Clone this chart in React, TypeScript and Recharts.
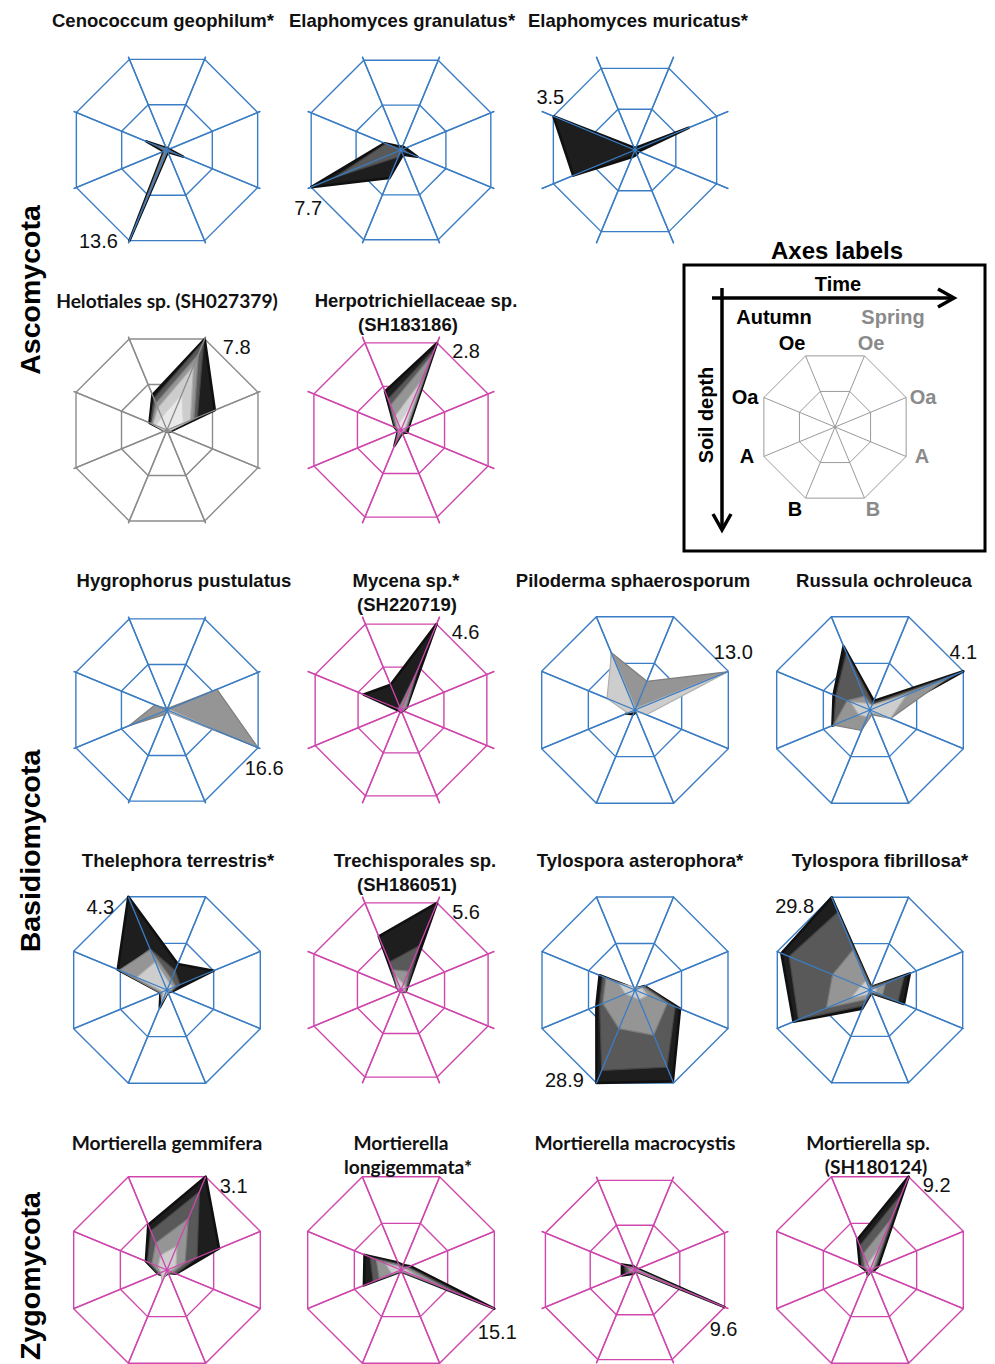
import React from "react";
import { RadarChart, Radar, PolarGrid, PolarAngleAxis, PolarRadiusAxis } from "recharts";

// axis order, clockwise from upper-right vertex
const axes = ["Oe spring", "Oa spring", "A spring", "B spring", "B autumn", "A autumn", "Oa autumn", "Oe autumn"];
const seriesKeys = ["s1", "s2", "s3", "s4", "s5"];
const seriesFill = ["#1e1e1e", "#595959", "#959595", "#cdcdcd", "#e8e8e8"];
const seriesStroke = ["#101010", "#454545", "#7e7e7e", "#b0b0b0", "#d2d2d2"];

const BLUE = "#3b7dc4";
const MAGENTA = "#cf46ad";
const GREY = "#8c8c8c";

// values per series (black -> lightest), in axis order
const cenococcumGeophilum = [
  [0.3, 0.3, 2.4, 0.3, 13.6, 0.5, 3.1, 0.3],
  [0.2, 0.2, 1.6, 0.2, 12.2, 0.4, 2.2, 0.2],
  [0.1, 0.1, 0.8, 0.1, 8.5, 0.3, 1.2, 0.1],
];
const elaphomycesGranulatus = [
  [0.3, 0.4, 1.4, 0.4, 2.4, 7.7, 1.4, 0.3],
  [0.1, 0.2, 0.6, 0.1, 0.6, 5.6, 1.3, 0.1],
];
const elaphomycesMuricatus = [
  [0.1, 2.3, 0.15, 0.2, 0.3, 2.65, 3.5, 0.1],
];
const helotiales = [
  [7.8, 4.1, 0.3, 0.1, 0.1, 0.2, 1.5, 3.0],
  [7.6, 2.6, 0.2, 0.1, 0.1, 0.2, 1.4, 2.7],
  [6.5, 2.3, 0.2, 0.1, 0.1, 0.2, 1.3, 2.3],
  [5.5, 2.0, 0.2, 0.1, 0.1, 0.2, 1.2, 1.9],
  [3.1, 1.4, 0.1, 0.1, 0.1, 0.1, 1.0, 1.1],
];
const herpotrichiellaceae = [
  [2.8, 0.25, 0.2, 0.1, 0.5, 0.1, 0.2, 1.24],
  [2.6, 0.22, 0.15, 0.1, 0.45, 0.1, 0.2, 1.0],
  [2.4, 0.2, 0.1, 0.05, 0.35, 0.08, 0.15, 0.8],
  [1.6, 0.15, 0.08, 0.05, 0.2, 0.05, 0.1, 0.45],
  [0.8, 0.1, 0.05, 0, 0.1, 0, 0.05, 0.2],
];
const hygrophorusPustulatus = [
  [0, 0, 0, 0, 0, 0, 0, 0],
  [0, 0, 0, 0, 0, 0, 0, 0],
  [0.3, 9.1, 16.6, 0.3, 0.8, 6.9, 2.2, 0.3],
  [0.1, 0.3, 8.8, 0.3, 0.1, 0.3, 0.2, 0.1],
];
const mycena = [
  [4.6, 0.3, 0.1, 0.1, 0.1, 0.1, 2.0, 1.35],
  [2.3, 0.3, 0.1, 0.05, 0.05, 0.05, 0.2, 0.2],
  [1.8, 0.25, 0.1, 0.05, 0.05, 0.05, 0.15, 0.15],
];
const pilodermaSphaerosporum = [
  [0, 0, 0, 0.3, 0.6, 1.2, 0.3, 0],
  [0, 0, 0, 0, 0, 0, 0, 0],
  [4.0, 12.8, 0.4, 0.1, 0.1, 0.3, 3.5, 8.0],
  [0.2, 13.0, 1.6, 0.2, 0.2, 1.0, 3.9, 7.9],
];
const russulaOchroleuca = [
  [0.4, 4.1, 0.6, 0.1, 0.3, 1.65, 1.6, 2.8],
  [0.3, 3.8, 0.6, 0.1, 0.4, 1.6, 1.5, 2.5],
  [0.2, 3.4, 0.9, 0.2, 0.9, 1.6, 1.0, 0.6],
  [0.2, 1.6, 0.9, 0.1, 0.3, 0.5, 0.85, 0.3],
];
const thelephoraTerrestris = [
  [1.2, 2.15, 0.2, 0.1, 0.8, 0.3, 2.27, 4.3],
  [0.9, 0.6, 0.2, 0.1, 0.6, 0.3, 2.1, 1.9],
  [0.5, 0.4, 0.15, 0.1, 0.5, 0.3, 2.2, 1.85],
  [0.3, 0.3, 0.1, 0.1, 0.6, 0.2, 1.4, 1.3],
];
const trechisporales = [
  [5.6, 0.4, 0.3, 0.1, 0.1, 0.1, 0.2, 3.45],
  [2.85, 0.4, 0.3, 0.1, 0.1, 0.1, 0.3, 1.8],
  [1.2, 0.3, 0.3, 0.1, 0.1, 0.1, 0.2, 1.3],
  [0.4, 0.3, 0.2, 0.1, 0.1, 0.1, 0.2, 0.9],
];
const tylosporaAsterophora = [
  [0.5, 3.0, 14.0, 28.4, 28.9, 12.0, 11.0, 0.5],
  [0.5, 3.0, 12.5, 24.0, 25.0, 11.0, 10.0, 0.5],
  [0.5, 2.5, 10.0, 14.0, 12.0, 10.0, 9.0, 0.5],
  [0.5, 2.0, 4.0, 3.0, 2.0, 3.0, 5.0, 1.0],
];
const tylosporaFibrillosa = [
  [1.0, 12.8, 10.9, 1.0, 6.0, 24.6, 28.5, 29.8],
  [1.0, 11.0, 9.0, 1.0, 5.0, 23.0, 26.0, 25.0],
  [0.5, 5.0, 4.0, 0.5, 3.0, 14.0, 12.0, 13.0],
  [0.3, 2.0, 2.0, 0.3, 1.5, 6.0, 3.0, 3.0],
];
const mortierellaGemmifera = [
  [3.1, 1.73, 0.3, 0.1, 0.2, 0.3, 0.7, 1.5],
  [2.6, 1.0, 0.3, 0.1, 0.2, 0.3, 0.65, 1.3],
  [1.7, 0.6, 0.2, 0.1, 0.2, 0.25, 0.5, 0.9],
  [0.8, 0.3, 0.1, 0.05, 0.4, 0.2, 0.3, 0.5],
];
const mortierellaLongigemmata = [
  [0.8, 1.5, 15.1, 0.3, 0.3, 6.0, 5.9, 1.2],
  [0.6, 1.2, 12.0, 0.3, 0.3, 4.5, 5.0, 1.0],
  [0.4, 1.0, 8.0, 0.2, 0.2, 3.5, 4.0, 0.8],
  [0.3, 0.6, 3.0, 0.1, 0.1, 1.5, 2.5, 0.5],
];
const mortierellaMacrocystis = [
  [0.2, 0.3, 9.6, 0.1, 0.4, 1.4, 1.4, 0.4],
  [0.2, 0.2, 8.0, 0.1, 0.3, 1.0, 1.1, 0.3],
  [0.1, 0.2, 5.0, 0.1, 0.2, 0.6, 0.8, 0.2],
  [0.1, 0.1, 2.0, 0, 0.1, 0.3, 0.4, 0.1],
];
const mortierellaSp = [
  [9.2, 0.8, 0.3, 0.1, 0.5, 0.3, 1.0, 3.0],
  [7.5, 0.6, 0.2, 0.1, 0.5, 0.3, 0.8, 2.4],
  [5.0, 0.4, 0.2, 0.1, 0.4, 0.2, 0.5, 1.6],
  [2.0, 0.2, 0.1, 0.1, 0.3, 0.1, 0.3, 0.6],
];

const colX = [167, 401, 635, 869.5];
const rowY = [150, 430, 710, 990, 1270];

type Panel = {
  title: string[];
  titleX: number[];
  font?: string;
  col: number;
  row: number;
  grid: string;
  max: number;
  label: string;
  off: [number, number];
  values: number[][];
};

const panels: Panel[] = [
  { title: ["Cenococcum geophilum*"], titleX: [163], col: 0, row: 0, grid: BLUE, max: 13.6, label: "13.6", off: [-31, 0], values: cenococcumGeophilum },
  { title: ["Elaphomyces granulatus*"], titleX: [402], col: 1, row: 0, grid: BLUE, max: 7.7, label: "7.7", off: [-3, 21], values: elaphomycesGranulatus },
  { title: ["Elaphomyces muricatus*"], titleX: [638], col: 2, row: 0, grid: BLUE, max: 3.5, label: "3.5", off: [-3, -19], values: elaphomycesMuricatus },
  { title: ["Helotiales sp. (SH027379)"], titleX: [167], font: "Lato", col: 0, row: 1, grid: GREY, max: 7.8, label: "7.8", off: [32, 8], values: helotiales },
  { title: ["Herpotrichiellaceae sp.", "(SH183186)"], titleX: [416, 408], col: 1, row: 1, grid: MAGENTA, max: 2.8, label: "2.8", off: [29, 8], values: herpotrichiellaceae },
  { title: ["Hygrophorus pustulatus"], titleX: [184], col: 0, row: 2, grid: BLUE, max: 16.6, label: "16.6", off: [6, 20], values: hygrophorusPustulatus },
  { title: ["Mycena sp.*", "(SH220719)"], titleX: [406, 407], col: 1, row: 2, grid: MAGENTA, max: 4.6, label: "4.6", off: [29, 8], values: mycena },
  { title: ["Piloderma sphaerosporum"], titleX: [633], col: 2, row: 2, grid: BLUE, max: 13.0, label: "13.0", off: [5, -19], values: pilodermaSphaerosporum },
  { title: ["Russula ochroleuca"], titleX: [884], col: 3, row: 2, grid: BLUE, max: 4.1, label: "4.1", off: [0, -19], values: russulaOchroleuca },
  { title: ["Thelephora terrestris*"], titleX: [178], col: 0, row: 3, grid: BLUE, max: 4.3, label: "4.3", off: [-28, 10], values: thelephoraTerrestris },
  { title: ["Trechisporales sp.", "(SH186051)"], titleX: [415, 407], col: 1, row: 3, grid: MAGENTA, max: 5.6, label: "5.6", off: [29, 9], values: trechisporales },
  { title: ["Tylospora asterophora*"], titleX: [640], col: 2, row: 3, grid: BLUE, max: 28.9, label: "28.9", off: [-32, -3], values: tylosporaAsterophora },
  { title: ["Tylospora fibrillosa*"], titleX: [880], col: 3, row: 3, grid: BLUE, max: 29.8, label: "29.8", off: [-37, 9], values: tylosporaFibrillosa },
  { title: ["Mortierella gemmifera"], titleX: [167], font: "Lato", col: 0, row: 4, grid: MAGENTA, max: 3.1, label: "3.1", off: [28, 9], values: mortierellaGemmifera },
  { title: ["Mortierella", "longigemmata*"], titleX: [401, 408], font: "Lato", col: 1, row: 4, grid: MAGENTA, max: 15.1, label: "15.1", off: [3, 23], values: mortierellaLongigemmata },
  { title: ["Mortierella macrocystis"], titleX: [635], font: "Lato", col: 2, row: 4, grid: MAGENTA, max: 9.6, label: "9.6", off: [-1, 22], values: mortierellaMacrocystis },
  { title: ["Mortierella sp.", "(SH180124)"], titleX: [868, 876], font: "Lato", col: 3, row: 4, grid: MAGENTA, max: 9.2, label: "9.2", off: [28, 8], values: mortierellaSp },
];

const titleRowY = [20, 300, 580, 860, 1142];

const SANS = "'Liberation Sans', Arial, Helvetica, sans-serif";
const SIZE = 300;
const R = 101;

function MiniRadar({ p }: { p: Panel }) {
  const data = axes.map((a, i) => {
    const row: any = { axis: a };
    p.values.forEach((s, k) => (row[seriesKeys[k]] = s[i]));
    return row;
  });
  // series holding the maximum value, for the value label
  let labelKey = "s1";
  let labelIdx = 0;
  p.values.forEach((s, k) =>
    s.forEach((v, i) => {
      if (v === p.max) {
        labelKey = seriesKeys[k];
        labelIdx = i;
      }
    })
  );
  const cx = colX[p.col];
  const cy = rowY[p.row];
  const common = {
    width: SIZE,
    height: SIZE,
    data,
    outerRadius: R,
    startAngle: 67.5,
    endAngle: -292.5,
    margin: { top: 0, right: 0, bottom: 0, left: 0 },
  };
  const box: React.CSSProperties = { position: "absolute", left: cx - SIZE / 2, top: cy - SIZE / 2, width: SIZE, height: SIZE };
  return (
    <>
      <div style={box}>
        <RadarChart {...common}>
          <PolarGrid gridType="polygon" stroke={p.grid} strokeWidth={1.4} />
          <PolarAngleAxis dataKey="axis" tick={false} axisLine={false} tickLine={false} />
          <PolarRadiusAxis type="number" domain={[0, p.max]} ticks={[0, p.max / 2, p.max]} tick={false} axisLine={false} tickLine={false} />
          {p.values.map((_, k) => (
            <Radar
              key={seriesKeys[k]}
              dataKey={seriesKeys[k]}
              fill={seriesFill[k]}
              fillOpacity={1}
              stroke={seriesStroke[k]}
              strokeWidth={k === 0 ? 2.6 : 1.2}
              strokeLinejoin="round"
              isAnimationActive={false}
              dot={false}
            />
          ))}
        </RadarChart>
      </div>
      {/* spokes and value label drawn over the polygons */}
      <div style={box}>
        <RadarChart {...common}>
          <PolarGrid gridType="polygon" stroke={p.grid} strokeWidth={1.3} />
          <PolarAngleAxis dataKey="axis" tick={false} axisLine={false} tickLine={false} />
          <PolarRadiusAxis type="number" domain={[0, p.max]} ticks={[0]} tick={false} axisLine={false} tickLine={false} />
          <Radar
            dataKey={labelKey}
            fill="none"
            stroke="none"
            isAnimationActive={false}
            dot={(d: any) =>
              d.index === labelIdx ? (
                <text key="lbl" x={d.cx + p.off[0]} y={d.cy + p.off[1]} textAnchor="middle" dominantBaseline="central" fontFamily={SANS} fontSize={20} fill="#111">
                  {p.label}
                </text>
              ) : (
                <g key={"d" + d.index} />
              )
            }
          />
        </RadarChart>
      </div>
    </>
  );
}

const legendData = axes.map((a) => ({ axis: a, v: 0 }));

function LegendRadar() {
  const S = 200;
  return (
    <div style={{ position: "absolute", left: 835 - S / 2, top: 427 - S / 2, width: S, height: S }}>
      <RadarChart width={S} height={S} data={legendData} outerRadius={77} startAngle={67.5} endAngle={-292.5} margin={{ top: 0, right: 0, bottom: 0, left: 0 }}>
        <PolarGrid gridType="polygon" stroke="#9a9a9a" strokeWidth={1} />
        <PolarAngleAxis dataKey="axis" tick={false} axisLine={false} tickLine={false} />
        <PolarRadiusAxis type="number" domain={[0, 1]} ticks={[0, 0.5, 1]} tick={false} axisLine={false} tickLine={false} />
        <Radar dataKey="v" fill="none" stroke="none" isAnimationActive={false} />
      </RadarChart>
    </div>
  );
}

const legendLabels: [string, number, number, boolean][] = [
  ["Autumn", 774, 317, false],
  ["Spring", 893, 317, true],
  ["Oe", 792, 343, false],
  ["Oe", 871, 343, true],
  ["Oa", 745, 397, false],
  ["Oa", 923, 397, true],
  ["A", 747, 456, false],
  ["A", 922, 456, true],
  ["B", 795, 509, false],
  ["B", 873, 509, true],
];

const phyla: [string, number][] = [
  ["Ascomycota", 290],
  ["Basidiomycota", 851],
  ["Zygomycota", 1276],
];

export default function App() {
  return (
    <div style={{ position: "absolute", left: 0, top: 0, width: 995, height: 1364, background: "#fff", overflow: "hidden" }}>
      {panels.map((p, i) => (
        <MiniRadar key={i} p={p} />
      ))}
      <LegendRadar />
      <svg width={995} height={1364} style={{ position: "absolute", left: 0, top: 0, pointerEvents: "none" }}>
        {panels.map((p, i) =>
          p.title.map((t, j) => (
            <text
              key={i + "-" + j}
              x={p.titleX[j]}
              y={titleRowY[p.row] + j * 24.5}
              textAnchor="middle"
              dominantBaseline="central"
              fontFamily={p.font ? `${p.font}, ${SANS}` : SANS}
              fontWeight="bold"
              fontSize={p.font ? 19.2 : 18.5}
              fill="#111"
            >
              {t}
            </text>
          ))
        )}
        {phyla.map(([t, y]) => (
          <text key={t} x={0} y={0} transform={`translate(30 ${y}) rotate(-90)`} textAnchor="middle" dominantBaseline="central" fontFamily={SANS} fontWeight="bold" fontSize={28.5} fill="#000">
            {t}
          </text>
        ))}
        {/* axes legend */}
        <text x={837} y={250} textAnchor="middle" dominantBaseline="central" fontFamily={SANS} fontWeight="bold" fontSize={24} fill="#000">
          Axes labels
        </text>
        <rect x={684} y={265} width={301} height={286} fill="none" stroke="#000" strokeWidth={3} />
        <line x1={712} y1={298} x2={953} y2={298} stroke="#000" strokeWidth={3.5} />
        <polyline points="938,289 954,298 938,307" fill="none" stroke="#000" strokeWidth={3.5} />
        <line x1={722} y1={288} x2={722} y2={529} stroke="#000" strokeWidth={3.5} />
        <polyline points="713,514 722,530 731,514" fill="none" stroke="#000" strokeWidth={3.5} />
        <text x={838} y={284} textAnchor="middle" dominantBaseline="central" fontFamily={SANS} fontWeight="bold" fontSize={20} fill="#000">
          Time
        </text>
        <text x={0} y={0} transform="translate(706 415) rotate(-90)" textAnchor="middle" dominantBaseline="central" fontFamily={SANS} fontWeight="bold" fontSize={20} fill="#000">
          Soil depth
        </text>
        {legendLabels.map(([t, x, y, spring], i) => (
          <text key={i} x={x} y={y} textAnchor="middle" dominantBaseline="central" fontFamily={SANS} fontWeight="bold" fontSize={20} fill={spring ? "#8a8a8a" : "#000"}>
            {t}
          </text>
        ))}
      </svg>
    </div>
  );
}
